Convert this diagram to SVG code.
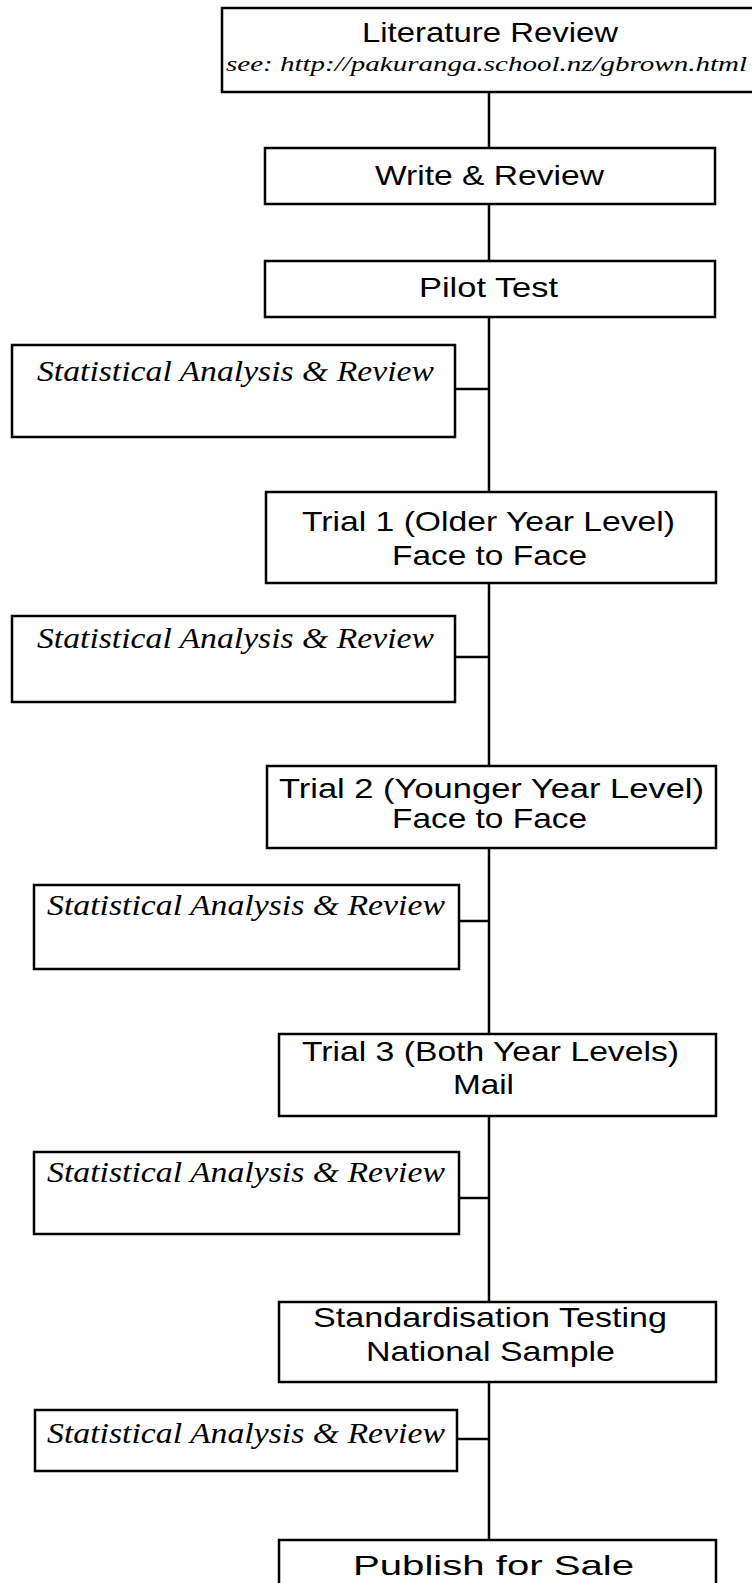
<svg xmlns="http://www.w3.org/2000/svg" width="752" height="1583" viewBox="0 0 752 1583">
<style>
.box{fill:#fff;stroke:#000;stroke-width:2.5}
.ln{stroke:#000;stroke-width:2.5;fill:none}
.s{font-family:"Liberation Sans",Arial,sans-serif;font-size:28px;fill:#000}
.i{font-family:"Liberation Serif","Times New Roman",serif;font-style:italic;font-size:29px;fill:#000}
.u{font-family:"Liberation Serif","Times New Roman",serif;font-style:italic;font-size:22px;fill:#000}
</style>
<rect width="752" height="1583" fill="#fff"/>
<g id="connectors">
<line class="ln" x1="489" y1="92" x2="489" y2="148"/>
<line class="ln" x1="489" y1="204" x2="489" y2="261"/>
<line class="ln" x1="489" y1="317" x2="489" y2="492"/>
<line class="ln" x1="489" y1="583" x2="489" y2="766"/>
<line class="ln" x1="489" y1="848" x2="489" y2="1034"/>
<line class="ln" x1="489" y1="1116" x2="489" y2="1302"/>
<line class="ln" x1="489" y1="1382" x2="489" y2="1540"/>
<line class="ln" x1="455" y1="389" x2="489" y2="389"/>
<line class="ln" x1="455" y1="657" x2="489" y2="657"/>
<line class="ln" x1="459" y1="921" x2="489" y2="921"/>
<line class="ln" x1="459" y1="1198" x2="489" y2="1198"/>
<line class="ln" x1="457" y1="1439" x2="489" y2="1439"/>
</g>
<g id="literature-review">
<rect class="box" x="222" y="8" width="533" height="84"/>
<text class="s" x="362" y="42" font-size="27" textLength="256" lengthAdjust="spacingAndGlyphs">Literature Review</text>
<text class="u" x="226" y="71" textLength="521" lengthAdjust="spacingAndGlyphs">see: http://pakuranga.school.nz/gbrown.html</text>
</g>
<g id="write-review">
<rect class="box" x="265" y="148" width="450" height="56"/>
<text class="s" x="375" y="185" textLength="229" lengthAdjust="spacingAndGlyphs">Write &amp; Review</text>
</g>
<g id="pilot-test">
<rect class="box" x="265" y="261" width="450" height="56"/>
<text class="s" x="419" y="297" textLength="139" lengthAdjust="spacingAndGlyphs">Pilot Test</text>
</g>
<g id="analysis-1">
<rect class="box" x="12" y="345" width="443" height="92"/>
<text class="i" x="37" y="381" textLength="397" lengthAdjust="spacingAndGlyphs">Statistical Analysis &amp; Review</text>
</g>
<g id="trial-1">
<rect class="box" x="266" y="492" width="450" height="91"/>
<text class="s" x="302" y="531" textLength="373" lengthAdjust="spacingAndGlyphs">Trial 1 (Older Year Level)</text>
<text class="s" x="392" y="565" textLength="195" lengthAdjust="spacingAndGlyphs">Face to Face</text>
</g>
<g id="analysis-2">
<rect class="box" x="12" y="616" width="443" height="86"/>
<text class="i" x="37" y="648" textLength="397" lengthAdjust="spacingAndGlyphs">Statistical Analysis &amp; Review</text>
</g>
<g id="trial-2">
<rect class="box" x="267" y="766" width="449" height="82"/>
<text class="s" x="279" y="798" textLength="425" lengthAdjust="spacingAndGlyphs">Trial 2 (Younger Year Level)</text>
<text class="s" x="392" y="828" textLength="195" lengthAdjust="spacingAndGlyphs">Face to Face</text>
</g>
<g id="analysis-3">
<rect class="box" x="34" y="885" width="425" height="84"/>
<text class="i" x="47" y="915" textLength="398" lengthAdjust="spacingAndGlyphs">Statistical Analysis &amp; Review</text>
</g>
<g id="trial-3">
<rect class="box" x="279" y="1034" width="437" height="82"/>
<text class="s" x="302" y="1061" textLength="377" lengthAdjust="spacingAndGlyphs">Trial 3 (Both Year Levels)</text>
<text class="s" x="453" y="1094" textLength="61" lengthAdjust="spacingAndGlyphs">Mail</text>
</g>
<g id="analysis-4">
<rect class="box" x="34" y="1152" width="425" height="82"/>
<text class="i" x="47" y="1182" textLength="398" lengthAdjust="spacingAndGlyphs">Statistical Analysis &amp; Review</text>
</g>
<g id="standardisation">
<rect class="box" x="279" y="1302" width="437" height="80"/>
<text class="s" x="313" y="1327" textLength="354" lengthAdjust="spacingAndGlyphs">Standardisation Testing</text>
<text class="s" x="366" y="1361" textLength="249" lengthAdjust="spacingAndGlyphs">National Sample</text>
</g>
<g id="analysis-5">
<rect class="box" x="35" y="1410" width="422" height="61"/>
<text class="i" x="47" y="1443" textLength="398" lengthAdjust="spacingAndGlyphs">Statistical Analysis &amp; Review</text>
</g>
<g id="publish">
<rect class="box" x="279" y="1540" width="437" height="60"/>
<text class="s" x="353" y="1575" font-size="29" textLength="281" lengthAdjust="spacingAndGlyphs">Publish for Sale</text>
</g>
</svg>
